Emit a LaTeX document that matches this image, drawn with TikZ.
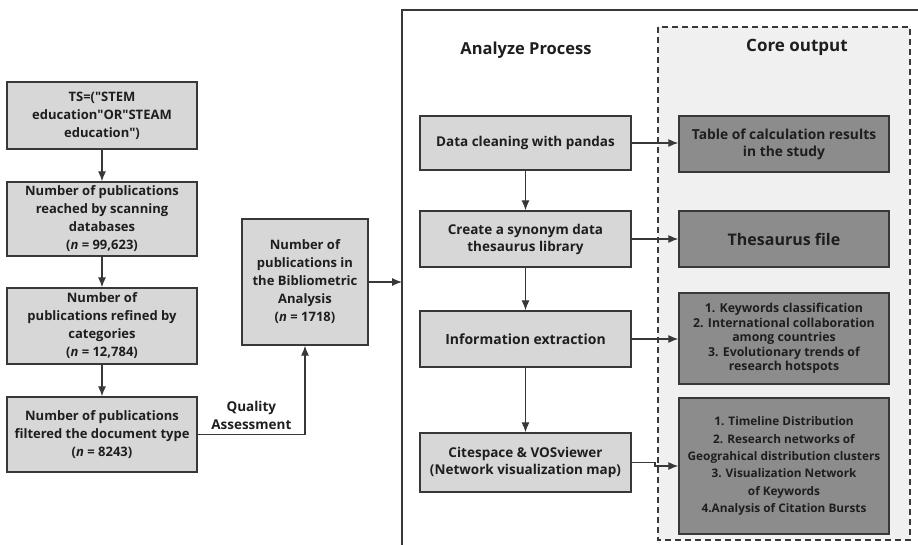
\documentclass[tikz,border=0pt]{standalone}
\usepackage{fontspec}
\setmainfont{Open Sans}
\usepackage{tikz}
\usetikzlibrary{calc}
\usetikzlibrary{arrows,arrows.meta,shapes}
\usetikzlibrary{positioning}
\definecolor{lightbox}{HTML}{D7D7D7}
\definecolor{darkbox}{HTML}{8C8C8C}
\definecolor{edgegray}{HTML}{383838}
\definecolor{txt}{HTML}{1E1E1E}
\definecolor{coreback}{HTML}{F0F0F0}
\tikzstyle{lbox}=[draw=edgegray,line width=1.4pt,fill=lightbox,text=txt,
                align=center,inner sep=0,font=\bfseries\fontsize{13}{18}\selectfont]
\tikzstyle{obox}=[draw=edgegray,line width=1.4pt,fill=darkbox,text=txt,
                align=center,inner sep=0,minimum width=210pt,
                font=\bfseries\fontsize{12.3}{17.3}\selectfont]
\tikzstyle{flow}=[-{Latex[length=10pt,width=8pt]},line width=1.1pt,draw=edgegray]

\begin{document}
\begin{tikzpicture}[x=1pt,y=-1pt]
\useasboundingbox (0,0) rectangle (918,545);
% frame and core output area
\coordinate (frtl) at (402,10);
\draw[line width=1.1pt,draw=edgegray] (918,10) -- (frtl) -- (402,545);
\draw[line width=1.1pt,draw=edgegray,fill=coreback,dash pattern=on 6pt off 4pt]
  (658,27) rectangle (910,540);
\node (tproc) at (526,50) [text=txt,font=\bfseries\fontsize{16.5}{20}\selectfont] {Analyze Process};
\node (tcore) at (797,47) [text=txt,font=\bfseries\fontsize{17}{20}\selectfont] {Core output};
% search
\node (ts) at (102,115.5)[lbox,minimum width=190pt,minimum height=67pt]
  {TS=(\textquotedbl STEM\\ education\textquotedbl OR\textquotedbl STEAM\\ education\textquotedbl)};
\node (scan) at (102,219)[lbox,minimum width=190pt,minimum height=74pt]
  {Number of publications\\ reached by scanning\\ databases\\ (\textit{n} = 99,623)};
\node (cat) at (102,326)[lbox,minimum width=190pt,minimum height=76pt]
  {Number of\\ publications refined by\\ categories\\ (\textit{n} = 12,784)};
\node (doc) at (102,434.5)[lbox,minimum width=190pt,minimum height=75pt]
  {Number of publications\\ filtered the document type\\ (\textit{n} = 8243)};
\node (biblio) at (305,282)[lbox,minimum width=126pt,minimum height=126pt]
  {Number of\\ publications in\\ the Bibliometric\\ Analysis\\ (\textit{n} = 1718)};
\draw[flow] (ts) -- (scan);
\draw[flow] (scan) -- (cat);
\draw[flow] (cat) -- (doc);
\draw[flow] (doc.east) -| node[pos=0.25,above=1pt,text=txt,align=center,
  font=\bfseries\fontsize{13.5}{18}\selectfont] {Quality\\ Assessment} (biblio.south);
\coordinate (frin) at (402,282);
\draw[flow] (biblio.east) -- (frin);
% analyze process
\node (clean) at (525.5,143)[lbox,minimum width=211pt,minimum height=54pt,
  font=\bfseries\fontsize{13.5}{18}\selectfont] {Data cleaning with pandas};
\node (syn) at (525.5,239)[lbox,minimum width=211pt,minimum height=56pt,
  font=\bfseries\fontsize{13.5}{17}\selectfont] {Create a synonym data\\ thesaurus library};
\node (info) at (525.5,339)[lbox,minimum width=211pt,minimum height=56pt,
  font=\bfseries\fontsize{14}{18}\selectfont] {Information extraction};
\node (cite) at (525.5,462.5)[lbox,minimum width=211pt,minimum height=59pt,
  font=\bfseries\fontsize{13.5}{17}\selectfont] {Citespace \& VOSviewer\\ (Network visualization map)};
\draw[flow] (clean) -- (syn);
\draw[flow] (syn) -- (info);
\draw[flow] (info) -- (cite);
% core output
\node (table) at (784,144)[obox,minimum height=56pt,
  font=\bfseries\fontsize{13.8}{17}\selectfont] {Table of calculation results\\ in the study};
\node (thes) at (784,239)[obox,minimum height=56pt,
  font=\bfseries\fontsize{16}{20}\selectfont] {Thesaurus file};
\node (kw) at (784,338.5)[obox,minimum height=91pt,
  font=\bfseries\fontsize{12.3}{14.6}\selectfont]
  {1. Keywords classification\\ 2. International collaboration\\ among countries\\
   3. Evolutionary trends of\\ research hotspots};
\node (net) at (784,466)[obox,minimum height=136pt,
  font=\bfseries\fontsize{11.8}{17.3}\selectfont]
  {1. Timeline Distribution\\ 2. Research networks of\\ Geograhical distribution clusters\\
   3. Visualization Network\\ of Keywords\\ 4.Analysis of Citation Bursts};
\draw[flow] (clean.east) -- (table.west |- clean.east);
\draw[flow] (syn.east) -- (thes.west);
\draw[flow] (info.east) -- (kw.west |- info.east);
\draw[flow] (cite.east) -- (655,462.5) -- (655,466) -- (net.west);
\end{tikzpicture}
\end{document}
